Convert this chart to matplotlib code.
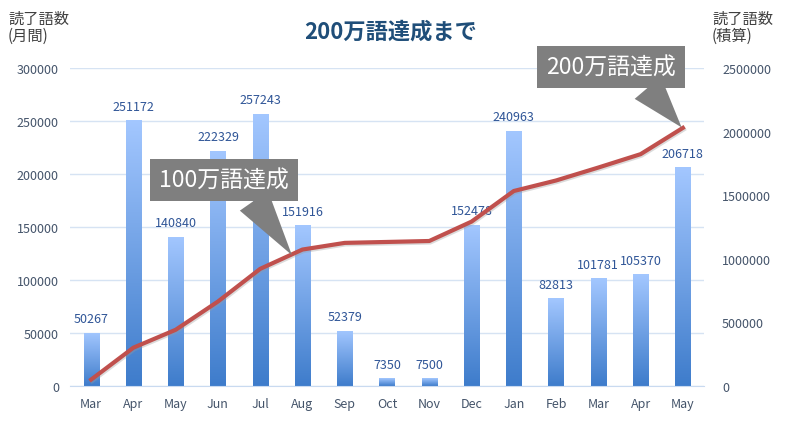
import matplotlib
matplotlib.use("Agg")
import matplotlib.pyplot as plt
import numpy as np
from matplotlib.colors import LinearSegmentedColormap
import matplotlib.transforms as mtrans

months = ["Mar", "Apr", "May", "Jun", "Jul", "Aug", "Sep", "Oct", "Nov", "Dec", "Jan", "Feb", "Mar", "Apr", "May"]
monthly = [50267, 251172, 140840, 222329, 257243, 151916, 52379, 7350, 7500, 152478, 240963, 82813, 101781, 105370, 206718]
cumulative = [50267, 301439, 442279, 664608, 921851, 1073767, 1126146, 1133496, 1140996, 1293474, 1534437, 1617250, 1719031, 1824401, 2031119]
left_ticks = [0, 50000, 100000, 150000, 200000, 250000, 300000]
right_ticks = [0, 500000, 1000000, 1500000, 2000000, 2500000]

plt.rcParams['font.family'] = ['Noto Sans CJK JP', 'DejaVu Sans']

fig = plt.figure(figsize=(8, 4.27), dpi=100)
ax = fig.add_axes([0.0875, 0.0937, 0.7925, 0.744])
ax2 = ax.twinx()

x = np.arange(len(months))
bars = ax.bar(x, monthly, width=0.36, color='none', edgecolor='none', zorder=2)
grad = np.linspace(0, 1, 256).reshape(-1, 1)
cmap = LinearSegmentedColormap.from_list('g', ['#3E7CCB', '#A3C7FF'])
for b in bars:
    x0, w, h = b.get_x(), b.get_width(), b.get_height()
    im = ax.imshow(grad, extent=[x0, x0 + w, 0, h], origin='lower', aspect='auto', cmap=cmap, zorder=2)
    im.set_clip_path(b)

for xi, v in zip(x, monthly):
    ax.text(xi, v + 7000, str(v), ha='center', va='bottom', fontsize=9, color='#2F5597', zorder=5)

ax.set_xlim(-0.5, len(months) - 0.5)
ax.set_ylim(0, 300000)
ax.set_yticks(left_ticks)
ax.set_yticklabels([str(t) for t in left_ticks])
ax.set_xticks(x)
ax.set_xticklabels(months)
ax.grid(axis='y', color='#D6E3F3', linewidth=1, zorder=0)
ax.set_axisbelow(True)
for s in ['top', 'left', 'right']:
    ax.spines[s].set_visible(False)
ax.spines['bottom'].set_color('#C9DAF0')
ax.tick_params(axis='both', length=0, labelsize=9, colors='#44546A', pad=8)

shadow = ax2.transData + mtrans.ScaledTranslation(1/100, -1.5/100, fig.dpi_scale_trans)
ax2.plot(x, cumulative, color='#9A9A9A', linewidth=3, alpha=0.35, zorder=3, transform=shadow)
ax2.plot(x, cumulative, color='#C0504D', linewidth=3, zorder=4)
ax2.set_ylim(0, 2500000)
ax2.set_yticks(right_ticks)
ax2.set_yticklabels([str(t) for t in right_ticks])
for s in ['top', 'left', 'right', 'bottom']:
    ax2.spines[s].set_visible(False)
ax2.tick_params(axis='y', length=0, labelsize=9, colors='#44546A', pad=13)

fig.text(0.488, 0.925, '200万語達成まで', ha='center', va='center', fontsize=16, fontweight='bold', color='#1F4E79')
fig.text(0.01, 0.975, '読了語数\n(月間)', ha='left', va='top', fontsize=11, color='#404040', linespacing=1.05)
fig.text(0.89, 0.975, '読了語数\n(積算)', ha='left', va='top', fontsize=11, color='#404040', linespacing=1.05)

bbox = dict(boxstyle='square,pad=0.4', fc='#7F7F7F', ec='none')
ax2.annotate('100万語達成', xy=(4.75, 1030000), xytext=(3.14, 1620000),
             ha='center', va='center', fontsize=16.5, color='white', bbox=bbox, zorder=6,
             arrowprops=dict(arrowstyle='wedge,tail_width=1.5,shrink_factor=0.5', fc='#7F7F7F', ec='none',
                             relpos=(0.68, 0.02), shrinkA=0, shrinkB=0))
ax2.annotate('200万語達成', xy=(13.97, 2035000), xytext=(12.3, 2510000),
             ha='center', va='center', fontsize=16.5, color='white', bbox=bbox, zorder=6,
             arrowprops=dict(arrowstyle='wedge,tail_width=1.5,shrink_factor=0.5', fc='#7F7F7F', ec='none',
                             relpos=(0.72, 0.02), shrinkA=0, shrinkB=0))

fig.savefig('out.png', dpi=100)
